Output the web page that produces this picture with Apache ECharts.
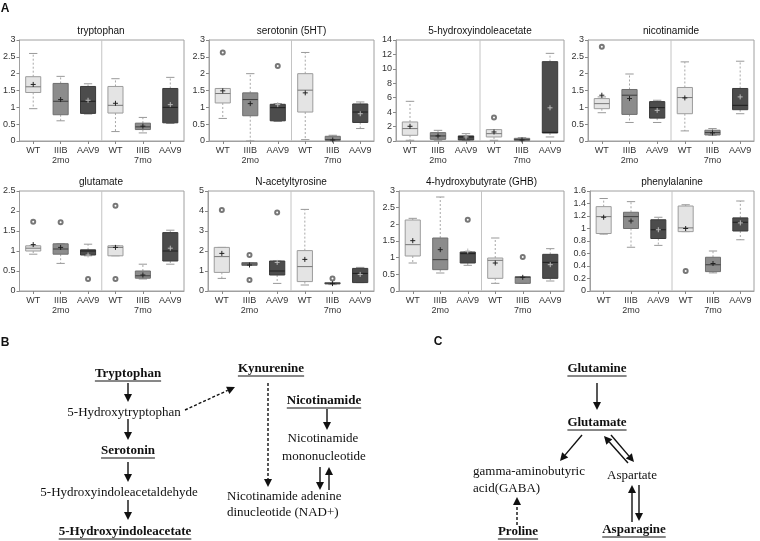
<!DOCTYPE html>
<html><head><meta charset="utf-8">
<script src="https://cdn.jsdelivr.net/npm/echarts@6/dist/echarts.min.js"></script>
<style>html,body{margin:0;padding:0;background:#fff}#c{width:760px;height:541px}</style>
</head><body><div id="c"></div>
<script>
// ---------- DATA ----------
const groups = ['WT 2mo','IIIB 2mo','AAV9 2mo','WT 7mo','IIIB 7mo','AAV9 7mo'];
const tickLabels = ['WT','IIIB\n2mo','AAV9','WT','IIIB\n7mo','AAV9'];
const panelTitles = ['tryptophan','serotonin (5HT)','5-hydroxyindoleacetate','nicotinamide',
  'glutamate','N-acetyltyrosine','4-hydroxybutyrate (GHB)','phenylalanine'];
const yMaxes = [3,3,14,3,2.5,5,3,1.6];
const ySteps = [0.5,0.5,2,0.5,0.5,1,0.5,0.2];

// box values per group: [low whisker, Q1, median, Q3, high whisker]
const tryptophanBox = [[0.96,1.44,1.61,1.91,2.6],[0.6,0.78,1.18,1.71,1.92],[0.80,0.82,1.18,1.62,1.70],[0.28,0.83,1.06,1.62,1.85],[0.24,0.34,0.42,0.53,0.70],[0.52,0.54,1.0,1.56,1.89]];
const tryptophanMean = [1.68,1.23,1.21,1.12,0.44,1.08];
const tryptophanOut = [];

const serotoninBox = [[0.67,1.13,1.41,1.56,1.56],[0,0.75,1.23,1.43,2.0],[0.58,0.6,0.99,1.09,1.11],[0.04,0.86,1.51,2.0,2.63],[0.01,0.02,0.04,0.14,0.17],[0.37,0.55,0.86,1.1,1.16]];
const serotoninMean = [1.49,1.11,1.08,1.43,0.03,0.81];
const serotoninOut = [[0,2.63],[2,2.23]];

const hiaaBox = [[0.1,0.79,1.72,2.64,5.5],[0.05,0.23,0.7,1.16,1.48],[0.05,0.14,0.56,0.7,1.02],[0.1,0.56,1.02,1.58,1.58],[0.05,0.09,0.19,0.37,0.46],[0.56,1.11,1.2,11.0,12.15]];
const hiaaMean = [2.04,0.7,0.56,1.25,0.14,4.6];
const hiaaOut = [[3,3.25]];

const nicotinamideBox = [[0.84,0.96,1.11,1.26,1.31],[0.55,0.79,1.36,1.53,1.99],[0.55,0.68,0.99,1.17,1.21],[0.3,0.81,1.29,1.59,2.35],[0.17,0.18,0.25,0.32,0.37],[0.81,0.93,1.06,1.56,2.37]];
const nicotinamideMean = [1.36,1.26,0.91,1.28,0.24,1.31];
const nicotinamideOut = [[0,2.8]];

const glutamateBox = [[0.92,1.0,1.07,1.13,1.13],[0.69,0.92,1.05,1.18,1.18],[0.88,0.9,1.0,1.03,1.17],[0.88,0.88,1.09,1.13,1.13],[0.3,0.32,0.38,0.5,0.67],[0.67,0.75,1.0,1.46,1.52]];
const glutamateMean = [1.16,1.09,0.9,1.09,0.4,1.07];
const glutamateOut = [[0,1.73],[1,1.72],[2,0.3],[3,2.13],[3,0.3]];

const natBox = [[0.63,0.93,1.72,2.18,2.18],[1.28,1.28,1.35,1.42,1.42],[0.38,0.8,1.0,1.5,1.5],[0.3,0.47,1.22,2.02,4.08],[0.32,0.35,0.38,0.42,0.42],[0.42,0.42,0.88,1.13,1.18]];
const natMean = [1.88,1.3,1.43,1.58,0.37,0.83];
const natOut = [[0,4.05],[1,1.8],[1,0.55],[2,3.93],[4,0.63]];

const ghbBox = [[0.84,1.05,1.39,2.13,2.18],[0.54,0.64,0.94,1.59,2.82],[0.77,0.84,1.12,1.17,1.17],[0.23,0.38,0.92,0.99,1.59],[0.23,0.23,0.41,0.43,0.43],[0.3,0.38,0.86,1.1,1.27]];
const ghbMean = [1.51,1.24,1.2,0.84,0.41,0.79];
const ghbOut = [[2,2.14],[4,1.02]];

const pheBox = [[0.91,0.92,1.19,1.35,1.48],[0.7,1.0,1.19,1.26,1.43],[0.73,0.84,0.98,1.14,1.18],[0.95,0.95,1.01,1.36,1.38],[0.29,0.31,0.42,0.54,0.64],[0.82,0.96,1.1,1.17,1.44]];
const pheMean = [1.18,1.12,0.98,1.0,0.44,1.09];
const pheOut = [[3,0.32]];

const panelBoxes = [tryptophanBox,serotoninBox,hiaaBox,nicotinamideBox,glutamateBox,natBox,ghbBox,pheBox];
const panelMeans = [tryptophanMean,serotoninMean,hiaaMean,nicotinamideMean,glutamateMean,natMean,ghbMean,pheMean];
const panelOuts = [tryptophanOut,serotoninOut,hiaaOut,nicotinamideOut,glutamateOut,natOut,ghbOut,pheOut];

// ---------- LAYOUT ----------
const gridRects = [
  [18,40,166,101],[209,40,165,101],[396,40,168,101],[588,40,166,101],
  [18,191,166,100],[208,191,166,100],[399,191,165,100],[590,191,164,100]
];
const fills = ['#e4e4e4','#8c8c8c','#4c4c4c'];
const borders = ['#9c9c9c','#6e6e6e','#3a3a3a'];
const medians = ['#777','#3e3e3e','#1e1e1e'];
const FONT = '"Liberation Sans", Arial, sans-serif';

function makeRender(ymax){
  return function(params, api){
    const ci = api.value(0);
    const low=api.value(1), q1=api.value(2), med=api.value(3), q3=api.value(4), high=api.value(5), mean=api.value(6);
    const pL=api.coord([ci,low]), p1=api.coord([ci,q1]), pM=api.coord([ci,med]), p3=api.coord([ci,q3]), pH=api.coord([ci,high]), pMe=api.coord([ci,mean]);
    const band = api.size([1,0])[0];
    const bw = band*0.55, cw = bw*0.55;
    const x = pL[0];
    const k = ci%3;
    const ch = [];
    if (params.dataIndex===0){
      const a=api.coord([2,0]), b=api.coord([3,0]), t=api.coord([2,ymax]);
      const mx=(a[0]+b[0])/2;
      ch.push({type:'line',shape:{x1:mx,y1:a[1],x2:mx,y2:t[1]},style:{stroke:'#c4c4c4',lineWidth:1}});
    }
    const ws = {stroke:'#a8a8a8',lineWidth:1,lineDash:[2,2]};
    ch.push({type:'line',shape:{x1:x,y1:p3[1],x2:x,y2:pH[1]},style:ws});
    ch.push({type:'line',shape:{x1:x,y1:p1[1],x2:x,y2:pL[1]},style:ws});
    ch.push({type:'line',shape:{x1:x-cw/2,y1:pH[1],x2:x+cw/2,y2:pH[1]},style:{stroke:'#999',lineWidth:1}});
    ch.push({type:'line',shape:{x1:x-cw/2,y1:pL[1],x2:x+cw/2,y2:pL[1]},style:{stroke:'#999',lineWidth:1}});
    ch.push({type:'rect',shape:{x:x-bw/2,y:p3[1],width:bw,height:Math.max(p1[1]-p3[1],1)},style:{fill:fills[k],stroke:borders[k],lineWidth:1}});
    ch.push({type:'line',shape:{x1:x-bw/2,y1:pM[1],x2:x+bw/2,y2:pM[1]},style:{stroke:medians[k],lineWidth:1}});
    const mc = k===2 ? '#bbb' : '#222';
    ch.push({type:'line',shape:{x1:x-2.5,y1:pMe[1],x2:x+2.5,y2:pMe[1]},style:{stroke:mc,lineWidth:1}});
    ch.push({type:'line',shape:{x1:x,y1:pMe[1]-2.5,x2:x,y2:pMe[1]+2.5},style:{stroke:mc,lineWidth:1}});
    return {type:'group',children:ch};
  };
}

const grid=[], xAxis=[], yAxis=[], series=[], title=[];
for (let i=0;i<8;i++){
  const r = gridRects[i];
  grid.push({left:r[0],top:r[1],width:r[2],height:r[3],show:true,borderColor:'#a0a0a0',borderWidth:1,backgroundColor:'transparent'});
  xAxis.push({type:'category',gridIndex:i,data:groups,
    axisLine:{lineStyle:{color:'#a0a0a0'}},
    axisTick:{show:true,alignWithLabel:true,length:3,lineStyle:{color:'#888'}},
    axisLabel:{formatter:(v,idx)=>tickLabels[idx],fontSize:9,color:'#333',lineHeight:10,margin:5,interval:0,fontFamily:FONT}});
  yAxis.push({type:'value',gridIndex:i,min:0,max:yMaxes[i],interval:ySteps[i],
    axisLine:{show:true,lineStyle:{color:'#a0a0a0'}},
    axisTick:{show:true,length:3,lineStyle:{color:'#888'}},
    splitLine:{show:false},
    axisLabel:{fontSize:9,color:'#333',margin:4,fontFamily:FONT}});
  title.push({text:panelTitles[i],left:r[0]+r[2]/2,top:r[1]-14,textAlign:'center',padding:0,
    textStyle:{fontSize:10,fontWeight:'normal',color:'#111',fontFamily:FONT}});
  const data = panelBoxes[i].map((b,j)=>[j].concat(b).concat([panelMeans[i][j]]));
  series.push({type:'custom',xAxisIndex:i,yAxisIndex:i,renderItem:makeRender(yMaxes[i]),
    encode:{x:0,y:[1,5]},data:data,silent:true,z:2});
  series.push({type:'scatter',xAxisIndex:i,yAxisIndex:i,data:panelOuts[i],symbol:'emptyCircle',symbolSize:4,
    itemStyle:{color:'#555',borderWidth:0.8},silent:true,z:3});
}

// ---------- PATHWAY DIAGRAMS ----------
const G=[];
const cx = document.createElement('canvas').getContext('2d');
function tw(s,f){cx.font=f;return cx.measureText(s).width;}
const SERIF='"Liberation Serif","Times New Roman",serif';
function label(s,x,y,bold,align){
  const font=(bold?'bold ':'')+'13px '+SERIF;
  G.push({type:'text',x:x,y:y,style:{text:s,font:font,fill:'#111',align:align||'center',verticalAlign:'middle'}});
  if(bold){
    const w=tw(s,font); const x0=(align==='left')?x:x-w/2;
    G.push({type:'line',shape:{x1:x0,y1:y+7,x2:x0+w,y2:y+7},style:{stroke:'#111',lineWidth:1}});
  }
}
function arrow(x1,y1,x2,y2,dashed){
  const a=Math.atan2(y2-y1,x2-x1), L=8, W=4;
  const bx=x2-L*Math.cos(a), by=y2-L*Math.sin(a);
  G.push({type:'line',shape:{x1:x1,y1:y1,x2:bx,y2:by},style:{stroke:'#111',lineWidth:1.4,lineDash:dashed?[3,2]:null}});
  G.push({type:'polygon',shape:{points:[[x2,y2],[bx-W*Math.sin(a),by+W*Math.cos(a)],[bx+W*Math.sin(a),by-W*Math.cos(a)]]},style:{fill:'#111'}});
}
function letter(s,x,y){G.push({type:'text',x:x,y:y,style:{text:s,font:'bold 12px '+FONT,fill:'#111',align:'center',verticalAlign:'middle'}});}

letter('A',5,9); letter('B',5,343); letter('C',438,342);
// B
label('Tryptophan',128,374,true);
arrow(128,383,128,402);
label('5-Hydroxytryptophan',124,413,false);
arrow(128,419,128,440);
label('Serotonin',128,451,true);
arrow(128,462,128,482);
label('5-Hydroxyindoleacetaldehyde',119,493,false);
arrow(128,500,128,520);
label('5-Hydroxyindoleacetate',125,532,true);
arrow(185,410,235,387,true);
label('Kynurenine',271,369,true);
arrow(268,383,268,487,true);
label('Nicotinamide',324,401,true);
arrow(327,409,327,430);
label('Nicotinamide',323,439,false);
label('mononucleotide',324,457,false);
arrow(320,467,320,490);
arrow(329,490,329,467);
label('Nicotinamide adenine',227,497,false,'left');
label('dinucleotide (NAD+)',227,513,false,'left');
// C
label('Glutamine',597,369,true);
arrow(597,383,597,410);
label('Glutamate',597,423,true);
arrow(582,435,560,461);
arrow(611,435,634,462);
arrow(628,463,604,436);
label('gamma-aminobutyric',473,472,false,'left');
label('acid(GABA)',473,489,false,'left');
label('Aspartate',632,476,false);
arrow(517,525,517,497,true);
label('Proline',518,532,true);
arrow(632,522,632,485);
arrow(639,485,639,521);
label('Asparagine',634,530,true);

const chart = echarts.init(document.getElementById('c'));
chart.setOption({
  animation:false,backgroundColor:'#fff',
  textStyle:{fontFamily:FONT},
  title:title,grid:grid,xAxis:xAxis,yAxis:yAxis,series:series,
  graphic:G
});
</script></body></html>
